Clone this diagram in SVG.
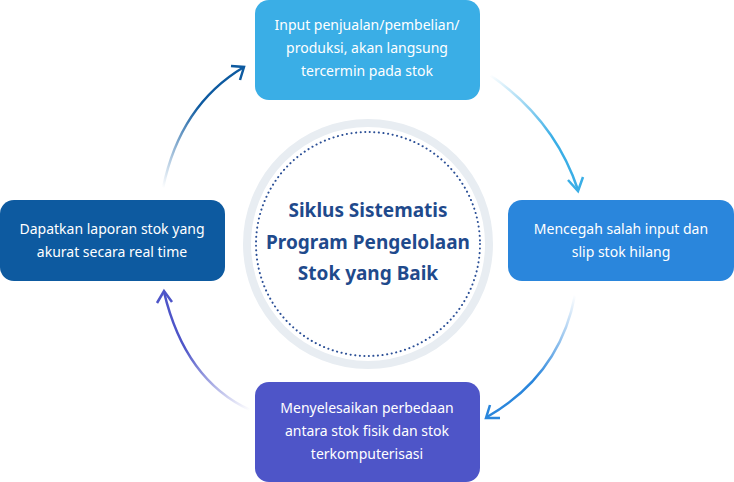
<svg xmlns="http://www.w3.org/2000/svg" width="734" height="482" viewBox="0 0 734 482">
<style>
.t{font-family:"Noto Sans","Liberation Sans",sans-serif;font-size:14px;fill:#fff;text-anchor:middle}
.c{font-family:"Noto Sans","Liberation Sans",sans-serif;font-size:19px;font-weight:bold;fill:#1f4a8c;text-anchor:middle}
.a{fill:none;stroke-width:2.5}
</style>
<defs>
<linearGradient id="g1" gradientUnits="userSpaceOnUse" x1="490" y1="75" x2="578" y2="192"><stop offset="0" stop-color="#3aaee6" stop-opacity="0"/><stop offset="0.6" stop-color="#3aaee6"/></linearGradient>
<linearGradient id="g2" gradientUnits="userSpaceOnUse" x1="575" y1="295" x2="485" y2="418"><stop offset="0" stop-color="#2a86dc" stop-opacity="0"/><stop offset="0.6" stop-color="#2a86dc"/></linearGradient>
<linearGradient id="g3" gradientUnits="userSpaceOnUse" x1="250" y1="410" x2="163" y2="290"><stop offset="0" stop-color="#4e55c8" stop-opacity="0"/><stop offset="0.6" stop-color="#4e55c8"/></linearGradient>
<linearGradient id="g4" gradientUnits="userSpaceOnUse" x1="163" y1="188" x2="245" y2="66"><stop offset="0" stop-color="#0d5aa0" stop-opacity="0"/><stop offset="0.6" stop-color="#0d5aa0"/></linearGradient>
</defs>
<g id="connectors">
<path class="a" stroke="url(#g1)" d="M490 75 Q555 120 578 190"/>
<path class="a" stroke="#3aaee6" d="M568 180 L578 191 L583 177"/>
<path class="a" stroke="url(#g2)" d="M575 295 Q560 375 487 417"/>
<path class="a" stroke="#2a86dc" d="M490 405 L486 418 L500 418"/>
<path class="a" stroke="url(#g3)" d="M250 410 Q185 380 164 292"/>
<path class="a" stroke="#4e55c8" d="M157 303 L164 291 L172 302"/>
<path class="a" stroke="url(#g4)" d="M163 188 Q180 105 244 67"/>
<path class="a" stroke="#0d5aa0" d="M231 66 L244 67 L240 80"/>
</g>
<g id="center">
<circle cx="368" cy="244" r="121" fill="#fff" stroke="#e8edf2" stroke-width="8"/>
<circle cx="368" cy="244" r="112" fill="none" stroke="#2b4f96" stroke-width="2" stroke-dasharray="0.1 4.5" stroke-linecap="round"/>
<text class="c" x="368" y="217">Siklus Sistematis</text>
<text class="c" x="368" y="249">Program Pengelolaan</text>
<text class="c" x="368" y="280">Stok yang Baik</text>
</g>
<g id="n1"><rect x="255" y="0" width="225" height="100" rx="14" fill="#3aaee6"/>
<text class="t" x="367" y="30">Input penjualan/pembelian/</text><text class="t" x="367" y="53">produksi, akan langsung</text><text class="t" x="367" y="76">tercermin pada stok</text></g>
<g id="n2"><rect x="508" y="200" width="226" height="81" rx="14" fill="#2a86dc"/>
<text class="t" x="621" y="234">Mencegah salah input dan</text><text class="t" x="621" y="257">slip stok hilang</text></g>
<g id="n3"><rect x="255" y="382" width="225" height="100" rx="14" fill="#4e55c8"/>
<text class="t" x="367" y="413">Menyelesaikan perbedaan</text><text class="t" x="367" y="436">antara stok fisik dan stok</text><text class="t" x="367" y="459">terkomputerisasi</text></g>
<g id="n4"><rect x="0" y="200" width="225" height="81" rx="14" fill="#0d5aa0"/>
<text class="t" x="112" y="234">Dapatkan laporan stok yang</text><text class="t" x="112" y="257">akurat secara real time</text></g>
</svg>
